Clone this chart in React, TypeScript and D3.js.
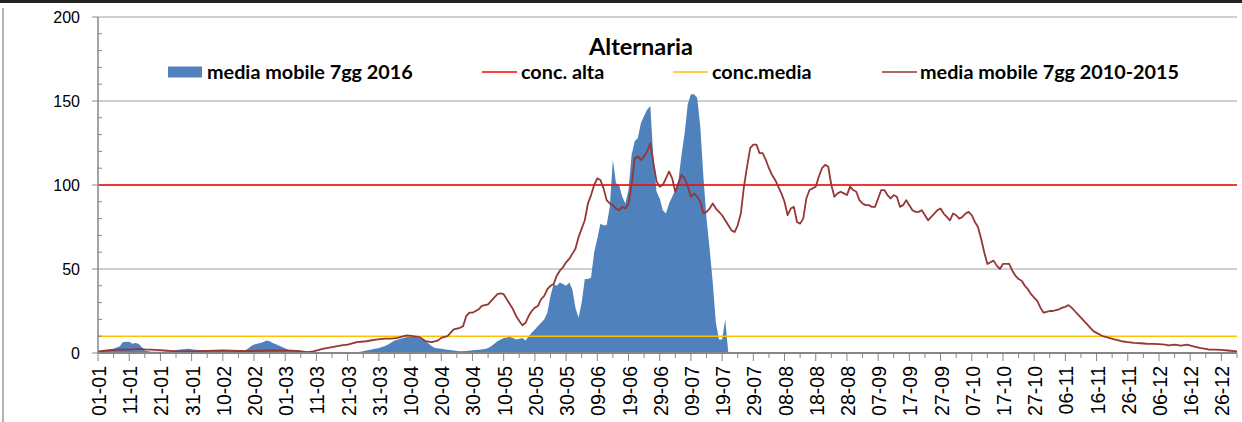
import React from 'react';
import * as d3 from 'd3';

// day-of-year index (0 = 01-01, 2016 leap year) for the 2016 moving average
const days2016 = [
  0, 3, 5, 7, 8, 10, 11, 12, 13, 14, 15, 17, 20, 23, 25, 27, 29, 31, 33, 35,
  40, 45, 47, 48, 49, 50, 52, 53, 54, 55, 56, 57, 59, 61, 62, 65, 67, 68, 82, 84,
  86, 88, 90, 92, 93, 95, 97, 99, 101, 102, 104, 105, 106, 107, 108, 110, 112, 114, 116, 118,
  120, 122, 124, 125, 126, 127, 128, 130, 132, 133, 134, 135, 136, 137, 138, 139, 140, 141, 142, 143,
  144, 145, 146, 147, 148, 149, 150, 151, 152, 153, 154, 155, 156, 157, 158, 159, 160, 161, 162, 163,
  164, 165, 166, 167, 168, 169, 170, 171, 172, 173, 174, 175, 176, 177, 178, 179, 180, 181, 182, 183,
  184, 185, 186, 187, 188, 189, 190, 191, 192, 193, 194, 195, 196, 197, 198, 199, 200, 201, 202,
];
const values2016 = [
  0.5, 2, 2.5, 4, 6.5, 6.7, 5.5, 6, 5.5, 3.5, 1.5, 0.8, 0.8, 1, 1.8, 2.2, 2.6, 2, 1.8, 1.2,
  1, 1, 1.3, 2.5, 4, 5, 6, 6.5, 7.5, 7, 6, 5.2, 3.5, 2, 1.5, 1, 0.4, 0, 0, 0.8,
  1.5, 2.2, 3, 4.2, 5, 7.5, 8.5, 9.5, 9.8, 9.5, 8, 7, 5.5, 4, 3, 2.5, 2, 1.5, 1, 1.2,
  1.6, 2, 2.4, 3, 4, 5.5, 7, 9, 9.5, 9, 8, 8.5, 9, 7.5, 10, 12, 14, 16, 18, 20,
  24, 34, 41, 40, 42, 41, 40, 42, 38, 27, 21, 30, 44, 44, 45, 60, 68, 77, 76, 76,
  87, 115, 101, 100, 93, 89, 97, 118, 126, 128, 137, 141, 145, 147, 115, 96, 92, 85, 83, 89,
  93, 97, 103, 118, 131, 148, 154, 154, 152, 135, 105, 80, 62, 42, 18, 8, 8, 20, 0,
];

// 7-day moving average 2010-2015
const daysAvg = [
  0, 3, 6, 10, 13, 15, 20, 25, 30, 35, 40, 45, 50, 55, 60, 64, 67, 69, 72, 75,
  78, 80, 83, 86, 89, 92, 94, 96, 98, 99, 101, 103, 105, 107, 109, 110, 112, 114, 116, 117,
  118, 119, 120, 122, 123, 125, 126, 128, 129, 130, 131, 132, 133, 134, 135, 136, 137, 138, 139, 140,
  141, 142, 143, 144, 145, 146, 147, 148, 149, 150, 151, 152, 153, 154, 155, 156, 157, 158, 159, 160,
  161, 162, 163, 164, 165, 166, 167, 168, 169, 170, 171, 172, 173, 174, 175, 176, 177, 178, 179, 180,
  181, 182, 183, 184, 185, 186, 187, 188, 189, 190, 191, 192, 193, 194, 195, 196, 197, 198, 199, 200,
  201, 202, 203, 204, 205, 206, 207, 208, 209, 210, 211, 212, 213, 214, 215, 216, 217, 218, 219, 220,
  221, 222, 223, 224, 225, 226, 227, 228, 229, 230, 231, 232, 233, 234, 235, 236, 237, 238, 239, 240,
  241, 242, 243, 244, 245, 246, 247, 248, 249, 250, 251, 252, 253, 254, 255, 256, 257, 258, 259, 260,
  261, 262, 263, 264, 265, 266, 267, 268, 269, 270, 271, 272, 273, 274, 275, 276, 277, 278, 279, 280,
  281, 282, 283, 284, 285, 286, 287, 288, 289, 290, 291, 292, 293, 294, 295, 296, 297, 298, 299, 300,
  301, 302, 303, 304, 305, 306, 307, 308, 309, 310, 311, 312, 313, 314, 315, 316, 317, 318, 319, 320,
  321, 322, 324, 326, 328, 330, 332, 334, 336, 338, 340, 342, 343, 345, 347, 349, 351, 353, 355, 356,
  358, 360, 362, 365,
];
const valuesAvg = [
  1, 1.5, 2, 2, 2.5, 2.2, 1.7, 1, 1, 1.3, 1.5, 1.2, 1.2, 1.5, 1.5, 1.3, 0.5, 1, 2.5, 3.5,
  4.5, 5, 6.5, 7, 8, 8.5, 8.5, 9, 10, 10.5, 10, 9.5, 7, 6.5, 7.5, 9, 10, 14, 15, 16,
  22, 24, 24, 26, 28, 29, 31, 35, 35.5, 35, 32, 29, 26, 22, 19, 16.5, 18, 22, 25, 27,
  28, 32, 34, 38, 40, 41, 46, 49, 51, 54, 56, 59, 62, 69, 74, 79, 89, 94, 100, 104,
  103, 98, 91, 89, 88, 86, 85, 87, 86, 89, 100, 116, 117, 115, 117, 120, 125, 113, 102, 99,
  100, 104, 108, 104, 96, 101, 106, 104, 99, 93, 95, 93, 90, 83, 84, 86, 89, 86, 84, 82,
  79, 76, 73, 72, 76, 83, 99, 111, 122, 124, 124, 119, 119, 115, 110, 106, 103, 99, 95, 90,
  82, 86, 87, 78, 77, 80, 92, 97, 98, 99, 105, 110, 112, 111, 100, 93, 95, 96, 95, 94,
  99, 97, 96, 91, 89, 88, 88, 87, 87, 92, 97, 97, 94, 92, 94, 93, 87, 88, 91, 88,
  85, 84, 84, 85, 82, 79, 81, 83, 85, 86, 83, 81, 79, 83, 82, 80, 81, 83, 84, 82,
  78, 75, 68, 60, 53, 54, 55, 52, 50, 53, 53, 53, 49, 46, 44, 43, 40, 38, 35, 33,
  31, 27, 24, 24.5, 25, 25, 25.5, 26, 27, 27.5, 28.5, 27, 25, 23, 21, 19, 17, 15, 13, 12,
  11, 10, 9, 8, 7, 6.5, 6, 5.8, 5.5, 5.4, 5.3, 5, 4.5, 5, 4.4, 5, 4, 3, 2.5, 2,
  2, 1.8, 1.5, 1,
];

const concAlta = 100;
const concMedia = 10;

const yTicks = [0, 50, 100, 150, 200];
const tickLabels = [
  '01-01', '11-01', '21-01', '31-01', '10-02', '20-02', '01-03', '11-03', '21-03', '31-03',
  '10-04', '20-04', '30-04', '10-05', '20-05', '30-05', '09-06', '19-06', '29-06', '09-07',
  '19-07', '29-07', '08-08', '18-08', '28-08', '07-09', '17-09', '27-09', '07-10', '17-10',
  '27-10', '06-11', '16-11', '26-11', '06-12', '16-12', '26-12',
];

const W = 1242;
const H = 422;
const BLUE = '#4F81BD';
const DARKRED = '#953735';
const AXIS = '#868686';
const LEGEND_FONT = 'Lato, "Open Sans", sans-serif';
const AXIS_FONT = '"Liberation Sans", Arial, sans-serif';

export default function App() {
  const x = d3.scaleLinear().domain([0, 365]).range([98, 1237]);
  const y = d3.scaleLinear().domain([0, 200]).range([353, 17]);

  const area = d3
    .area<number>()
    .x((_, i) => x(days2016[i]))
    .y0(y(0))
    .y1(d => y(d));

  const line = d3
    .line<number>()
    .x((_, i) => x(daysAvg[i]))
    .y(d => y(d));

  const minorY = d3.range(0, 201, 10);
  const minorX = d3.range(0, 366, 5);

  return (
    <div style={{ position: 'fixed', left: 0, top: 0 }}>
      <svg width={W} height={H} viewBox={`0 0 ${W} ${H}`} style={{ display: 'block', background: '#fff' }}>
        {/* frame */}
        <line x1={0} x2={W} y1={1.5} y2={1.5} stroke="#222" strokeWidth={3} />
        <line x1={3} x2={3} y1={8} y2={H} stroke="#9a9a9a" strokeWidth={1.5} />

        {/* gridlines */}
        {yTicks.slice(1).map(t => (
          <line key={t} x1={x(0)} x2={x(365)} y1={y(t)} y2={y(t)} stroke="#a0a0a0" strokeWidth={1} />
        ))}

        {/* 2016 area */}
        <path d={area(values2016) ?? ''} fill={BLUE} />

        {/* thresholds */}
        <line x1={x(0)} x2={x(365)} y1={y(concAlta)} y2={y(concAlta)} stroke="#FF0000" strokeWidth={1.5} />
        <line x1={x(0)} x2={x(365)} y1={y(concMedia)} y2={y(concMedia)} stroke="#FFC000" strokeWidth={1.5} />

        {/* 2010-2015 line */}
        <path d={line(valuesAvg) ?? ''} fill="none" stroke={DARKRED} strokeWidth={1.8} strokeLinejoin="round" />

        {/* y axis */}
        <line x1={x(0)} x2={x(0)} y1={y(200)} y2={y(0)} stroke={AXIS} strokeWidth={1.5} />
        {minorY.map(t => (
          <line key={t} x1={x(0)} x2={x(0) + (t % 50 === 0 ? 0 : 4)} y1={y(t)} y2={y(t)} stroke={AXIS} strokeWidth={1} />
        ))}
        {yTicks.map(t => (
          <g key={t}>
            <line x1={x(0) - 6} x2={x(0)} y1={y(t)} y2={y(t)} stroke={AXIS} strokeWidth={1} />
            <text
              x={80}
              y={y(t)}
              dy="0.36em"
              textAnchor="end"
              fontFamily={AXIS_FONT}
              fontSize={16}
              fill="#000"
            >
              {t}
            </text>
          </g>
        ))}

        {/* x axis */}
        <line x1={x(0)} x2={x(365)} y1={y(0)} y2={y(0)} stroke={AXIS} strokeWidth={1.8} />
        {minorX.map(d => (
          <line key={d} x1={x(d)} x2={x(d)} y1={y(0)} y2={y(0) + (d % 10 === 0 ? 8 : 5)} stroke={AXIS} strokeWidth={1} />
        ))}
        {tickLabels.map((lab, i) => (
          <text
            key={lab}
            transform={`translate(${x(i * 10) + 1},366) rotate(-90)`}
            dy="0.36em"
            textAnchor="end"
            fontFamily={AXIS_FONT}
            fontSize={19.5}
            fill="#000"
          >
            {lab}
          </text>
        ))}

        {/* title */}
        <text x={641} y={55} textAnchor="middle" fontFamily={LEGEND_FONT} fontWeight="bold" fontSize={23.5} fill="#000">
          Alternaria
        </text>

        {/* legend */}
        <g fontFamily={LEGEND_FONT} fontWeight="bold" fontSize={19.8} fill="#000">
          <rect x={168} y={66.5} width={34} height={11} fill={BLUE} />
          <text x={207} y={79}>media mobile 7gg 2016</text>
          <line x1={482} x2={517} y1={72} y2={72} stroke="#FF0000" strokeWidth={1.5} />
          <text x={521} y={79}>conc. alta</text>
          <line x1={673} x2={708} y1={72} y2={72} stroke="#FFC000" strokeWidth={1.5} />
          <text x={712} y={79}>conc.media</text>
          <line x1={882} x2={917} y1={72} y2={72} stroke={DARKRED} strokeWidth={1.5} />
          <text x={920} y={79}>media mobile 7gg 2010-2015</text>
        </g>
      </svg>
    </div>
  );
}
